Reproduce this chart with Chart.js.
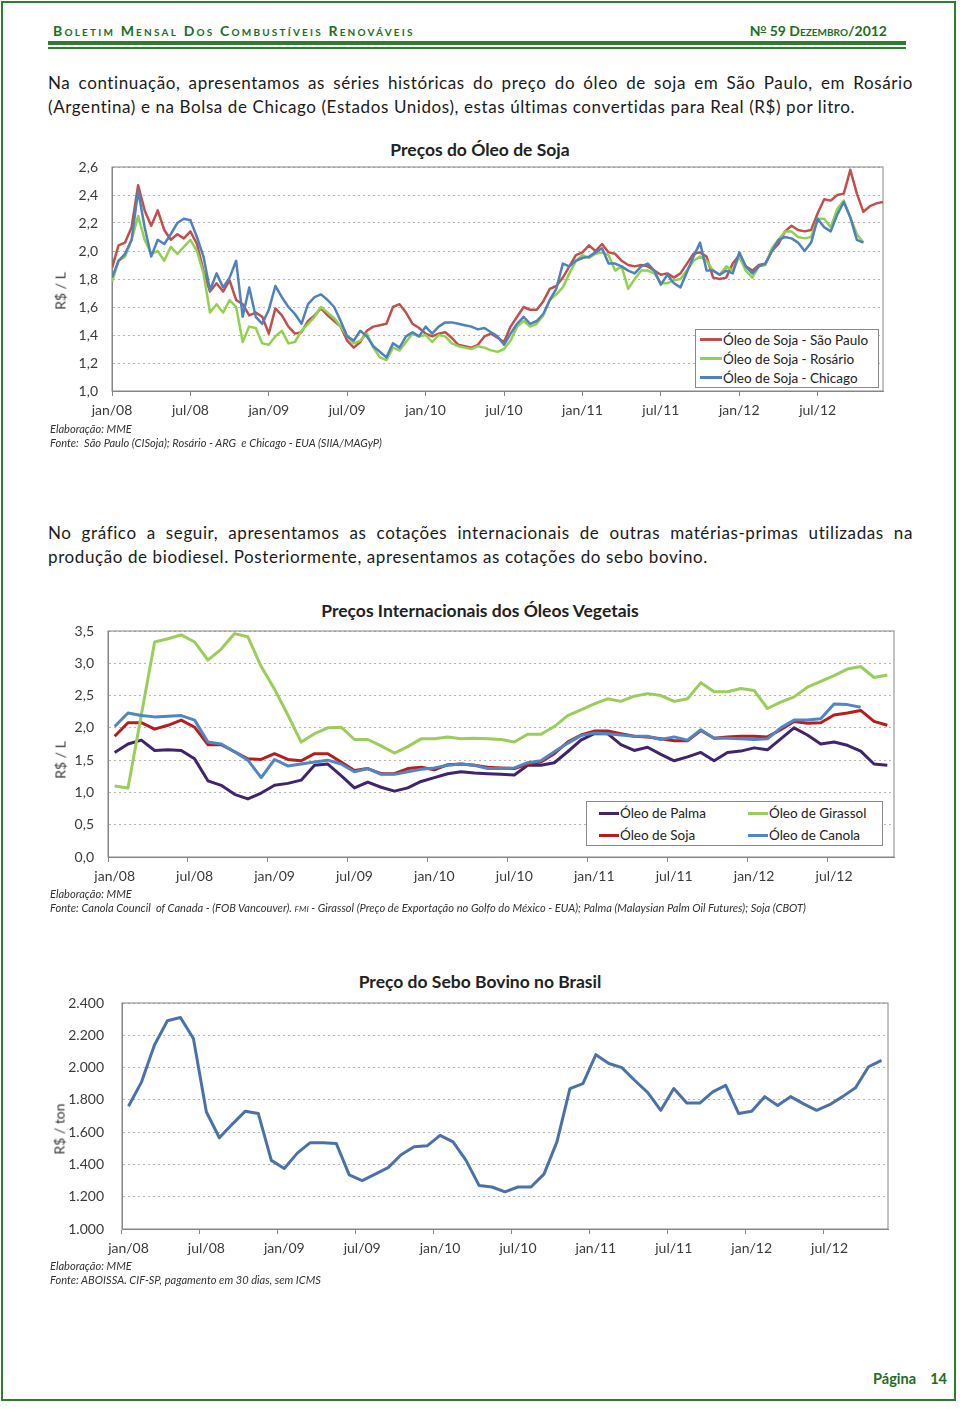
<!DOCTYPE html>
<html lang="pt-BR">
<head>
<meta charset="utf-8">
<title>Boletim Mensal dos Combustíveis Renováveis - Página 14</title>
<script src="https://cdn.jsdelivr.net/npm/chart.js@4.4.1/dist/chart.umd.min.js"></script>
<style>
  html, body { margin: 0; padding: 0; background: #fff; }
  body { position: relative; width: 960px; height: 1409px; overflow: hidden;
         font-family: Lato, "Open Sans", sans-serif; color: #1a1a1a; }
  .abs { position: absolute; }
  .frame { left: 1px; top: 1px; width: 951px; height: 1396px; border: 2.5px solid #2c7d2c; }
  .head { top: 22px; font-size: 14px; font-weight: bold; color: #1d6e1d; line-height: 18px; white-space: nowrap; }
  .sc { font-variant: small-caps; letter-spacing: 2.2px; }
  .supo { position: relative; top: -5px; font-size: 10px; line-height: 0; text-decoration: underline; }
  .rule1 { left: 48px; top: 41px; width: 858px; height: 4px; background: #2c7d2c; }
  .rule2 { left: 48px; top: 47px; width: 858px; height: 1.5px; background: #2c7d2c; }
  .para { left: 48px; width: 865px; font-size: 17px; letter-spacing: 0.6px; line-height: 24px; }
  .para .j { text-align: justify; text-align-last: justify; }
  .title { left: 0; width: 960px; text-align: center; font-weight: bold; font-size: 17.5px; color: #222; line-height: 20px; }
  .ytitle { font-size: 14px; color: #333; white-space: nowrap; transform: translate(-50%, -50%) rotate(-90deg); }
  .note { left: 50px; font-size: 11.1px; font-style: italic; color: #333; line-height: 14px; white-space: nowrap; }
  canvas { position: absolute; left: 0; }
  .legend { position: absolute; border: 1px solid #8a8a8a; background: #fff; box-sizing: border-box;
            font-size: 13.5px; color: #222; z-index: 2; }
  .legend .item { display: flex; align-items: center; white-space: nowrap; }
  .legend .swatch { display: inline-block; }
  #lg1 { left: 695px; top: 329px; width: 184px; height: 59px; }
  #lg1 .item { height: 19px; }
  #lg1 .swatch { width: 22px; height: 2.5px; margin: 0 1px 0 4px; }
  #lg2 { left: 586px; top: 801px; width: 297px; height: 45px; display: grid;
         grid-template-columns: 149px 146px; grid-template-rows: 22px 22px; grid-auto-flow: column; }
  #lg2 .swatch { width: 20px; height: 3px; margin: 0 1px 0 12px; }
  .footer { right: 13px; top: 1370px; font-weight: bold; color: #1d6e1d; font-size: 14.5px; line-height: 18px; }
</style>
</head>
<body>
<div class="abs frame"></div>
<div class="abs head sc" style="left:53px">Boletim Mensal Dos Combustíveis Renováveis</div>
<div class="abs head" style="right:73px">N<span class="supo">o</span> 59 <span class="sc" style="letter-spacing:0">Dezembro</span>/2012</div>
<div class="abs rule1"></div>
<div class="abs rule2"></div>

<div class="abs para" style="top:71px">
  <div class="j">Na continuação, apresentamos as séries históricas do preço do óleo de soja em São Paulo, em Rosário</div>
  <div>(Argentina) e na Bolsa de Chicago (Estados Unidos), estas últimas convertidas para Real (R$) por litro.</div>
</div>

<!-- grafico 1 -->
<div class="abs title" style="top:140px">Preços do Óleo de Soja</div>
<canvas id="soyChart" width="960" height="286" style="top:144px"></canvas>
<div class="abs ytitle" style="left:60px;top:291px">R$ / L</div>
<div class="legend" id="lg1"></div>
<div class="abs note" style="top:422px">Elaboração: MME</div>
<div class="abs note" style="top:436px">Fonte:&nbsp; São Paulo (CISoja); Rosário - ARG&nbsp; e Chicago - EUA (SIIA/MAGyP)</div>

<div class="abs para" style="top:521px">
  <div class="j">No gráfico a seguir, apresentamos as cotações internacionais de outras matérias-primas utilizadas na</div>
  <div>produção de biodiesel. Posteriormente, apresentamos as cotações do sebo bovino.</div>
</div>

<!-- grafico 2 -->
<div class="abs title" style="top:601px">Preços Internacionais dos Óleos Vegetais</div>
<canvas id="vegChart" width="960" height="297" style="top:608px"></canvas>
<div class="abs ytitle" style="left:60px;top:760px">R$ / L</div>
<div class="legend" id="lg2"></div>
<div class="abs note" style="top:887px">Elaboração: MME</div>
<div class="abs note" style="top:901px">Fonte: Canola Council&nbsp; of Canada - (FOB Vancouver). <span style="font-size:8.5px">FMI</span> - Girassol (Preço de Exportação no Golfo do México - EUA); Palma (Malaysian Palm Oil Futures); Soja (CBOT)</div>

<!-- grafico 3 -->
<div class="abs title" style="top:972px">Preço do Sebo Bovino no Brasil</div>
<canvas id="tallowChart" width="960" height="289" style="top:976px"></canvas>
<div class="abs ytitle" style="left:59px;top:1129px">R$ / ton</div>
<div class="abs note" style="top:1259px">Elaboração: MME</div>
<div class="abs note" style="top:1273px">Fonte: ABOISSA. CIF-SP, pagamento em 30 dias, sem ICMS</div>

<div class="abs footer">Página&nbsp;&nbsp;&nbsp; 14</div>

<script>
// Preços do Óleo de Soja (R$/L), leituras quinzenais a partir de jan/08
const soyStep = 0.5; // meses entre leituras
const soySaoPaulo = [
  1.88, 2.04, 2.06, 2.17, 2.47, 2.29, 2.18, 2.29, 2.15, 2.08, 2.12, 2.09, 2.14, 2.05, 1.86, 1.71, 1.77, 1.71, 1.79, 1.65,
  1.62, 1.54, 1.56, 1.53, 1.41, 1.59, 1.54, 1.46, 1.41, 1.42, 1.50, 1.54, 1.59, 1.54, 1.50, 1.46, 1.36, 1.31, 1.35, 1.43,
  1.46, 1.47, 1.48, 1.60, 1.62, 1.56, 1.48, 1.45, 1.41, 1.39, 1.41, 1.42, 1.38, 1.33, 1.32, 1.31, 1.33, 1.39, 1.41, 1.38,
  1.35, 1.46, 1.53, 1.60, 1.58, 1.58, 1.64, 1.73, 1.75, 1.81, 1.89, 1.97, 1.99, 2.04, 2.00, 2.05, 1.99, 1.98, 1.93, 1.90,
  1.89, 1.90, 1.89, 1.86, 1.83, 1.84, 1.81, 1.84, 1.91, 1.98, 1.99, 1.96, 1.81, 1.80, 1.81, 1.91, 1.97, 1.89, 1.86, 1.90,
  1.91, 2.00, 2.05, 2.14, 2.18, 2.15, 2.14, 2.15, 2.27, 2.37, 2.36, 2.40, 2.41, 2.58, 2.41, 2.28, 2.32, 2.34, 2.35
];
const soyRosario = [
  1.78, 1.93, 1.96, 2.08, 2.25, 2.08, 1.98, 2.00, 1.93, 2.03, 1.98, 2.03, 2.08, 2.00, 1.84, 1.56, 1.62, 1.56, 1.65, 1.60,
  1.35, 1.46, 1.45, 1.34, 1.33, 1.39, 1.43, 1.34, 1.35, 1.43, 1.48, 1.53, 1.60, 1.56, 1.52, 1.46, 1.39, 1.34, 1.36, 1.41,
  1.31, 1.24, 1.22, 1.31, 1.29, 1.35, 1.41, 1.39, 1.40, 1.35, 1.40, 1.39, 1.34, 1.32, 1.31, 1.30, 1.32, 1.31, 1.29, 1.28,
  1.30, 1.36, 1.46, 1.50, 1.46, 1.48, 1.54, 1.65, 1.69, 1.74, 1.84, 1.93, 1.97, 1.95, 1.98, 1.99, 1.97, 1.86, 1.89, 1.73,
  1.80, 1.86, 1.86, 1.84, 1.77, 1.77, 1.79, 1.80, 1.86, 1.93, 1.96, 1.93, 1.86, 1.83, 1.89, 1.86, 1.96, 1.86, 1.81, 1.89,
  1.90, 2.02, 2.08, 2.14, 2.14, 2.10, 2.09, 2.10, 2.23, 2.23, 2.17, 2.30, 2.36, 2.24, 2.12, 2.06
];
const soyChicago = [
  1.81, 1.93, 1.98, 2.08, 2.43, 2.17, 1.96, 2.08, 2.05, 2.12, 2.20, 2.23, 2.22, 2.10, 1.96, 1.72, 1.84, 1.74, 1.81, 1.93,
  1.53, 1.74, 1.53, 1.48, 1.58, 1.75, 1.67, 1.60, 1.55, 1.48, 1.62, 1.67, 1.69, 1.65, 1.60, 1.50, 1.39, 1.36, 1.43, 1.39,
  1.32, 1.28, 1.24, 1.34, 1.31, 1.39, 1.42, 1.39, 1.46, 1.41, 1.46, 1.49, 1.49, 1.48, 1.47, 1.46, 1.44, 1.45, 1.42, 1.39,
  1.33, 1.41, 1.48, 1.53, 1.48, 1.50, 1.55, 1.65, 1.73, 1.91, 1.89, 1.93, 1.95, 1.96, 1.99, 2.02, 1.91, 1.91, 1.89, 1.86,
  1.84, 1.89, 1.91, 1.86, 1.76, 1.83, 1.77, 1.74, 1.85, 1.96, 2.06, 1.86, 1.86, 1.83, 1.86, 1.84, 1.99, 1.89, 1.84, 1.89,
  1.91, 2.00, 2.08, 2.10, 2.09, 2.06, 2.00, 2.06, 2.23, 2.17, 2.14, 2.26, 2.35, 2.24, 2.08, 2.06
];
const soyTickLabels = ['jan/08', 'jul/08', 'jan/09', 'jul/09', 'jan/10', 'jul/10', 'jan/11', 'jul/11', 'jan/12', 'jul/12'];

// Preços Internacionais dos Óleos Vegetais (R$/L), mensal jan/08 - nov/12
const monthNames = ['jan', 'fev', 'mar', 'abr', 'mai', 'jun', 'jul', 'ago', 'set', 'out', 'nov', 'dez'];
const yearNames = ['08', '09', '10', '11', '12'];
const palmOil = [
  1.62, 1.75, 1.81, 1.65, 1.66, 1.65, 1.52, 1.18, 1.11, 0.97, 0.90, 0.99, 1.11, 1.14, 1.19, 1.42, 1.44, 1.26, 1.07, 1.16,
  1.08, 1.02, 1.07, 1.17, 1.23, 1.29, 1.32, 1.30, 1.29, 1.28, 1.27, 1.42, 1.42, 1.46, 1.63, 1.81, 1.91, 1.91, 1.74, 1.65,
  1.70, 1.59, 1.49, 1.55, 1.62, 1.49, 1.62, 1.64, 1.69, 1.66, 1.83, 2.00, 1.89, 1.75, 1.78, 1.73, 1.64, 1.44, 1.42
];
const soyOil = [
  1.87, 2.08, 2.08, 1.98, 2.04, 2.12, 2.01, 1.74, 1.74, 1.63, 1.52, 1.51, 1.60, 1.51, 1.49, 1.60, 1.60, 1.47, 1.34, 1.37,
  1.29, 1.29, 1.37, 1.39, 1.35, 1.43, 1.44, 1.42, 1.39, 1.38, 1.37, 1.44, 1.47, 1.60, 1.78, 1.89, 1.95, 1.95, 1.91, 1.87,
  1.86, 1.83, 1.80, 1.80, 1.96, 1.84, 1.86, 1.87, 1.87, 1.86, 1.97, 2.10, 2.07, 2.08, 2.20, 2.23, 2.27, 2.10, 2.04
];
const sunflowerOil = [
  1.10, 1.07, 2.20, 3.33, 3.38, 3.44, 3.33, 3.05, 3.22, 3.46, 3.41, 2.95, 2.60, 2.20, 1.78, 1.91, 2.00, 2.01, 1.82, 1.82,
  1.72, 1.61, 1.71, 1.83, 1.83, 1.86, 1.83, 1.84, 1.83, 1.82, 1.78, 1.90, 1.90, 2.02, 2.19, 2.28, 2.37, 2.45, 2.41, 2.49,
  2.53, 2.50, 2.41, 2.45, 2.70, 2.56, 2.56, 2.61, 2.58, 2.30, 2.40, 2.48, 2.63, 2.72, 2.81, 2.91, 2.95, 2.78, 2.82
];
const canolaOil = [
  2.02, 2.23, 2.19, 2.17, 2.18, 2.19, 2.12, 1.78, 1.75, 1.63, 1.50, 1.23, 1.51, 1.41, 1.44, 1.47, 1.50, 1.44, 1.32, 1.37,
  1.28, 1.28, 1.32, 1.36, 1.38, 1.42, 1.44, 1.42, 1.37, 1.37, 1.38, 1.46, 1.49, 1.63, 1.76, 1.88, 1.92, 1.91, 1.89, 1.87,
  1.87, 1.82, 1.86, 1.81, 1.97, 1.84, 1.84, 1.83, 1.82, 1.83, 2.00, 2.12, 2.12, 2.14, 2.37, 2.36, 2.32
];

// Preço do Sebo Bovino no Brasil (R$/ton), mensal jan/08 - nov/12
const tallowPrice = [
  1760, 1910, 2140, 2290, 2310, 2180, 1725, 1565, 1650, 1730, 1715, 1425, 1375, 1470, 1535, 1535, 1530, 1335, 1300, 1340,
  1380, 1460, 1510, 1515, 1580, 1540, 1425, 1270, 1260, 1230, 1260, 1260, 1340, 1540, 1870, 1900, 2080, 2025, 2000, 1920,
  1845, 1735, 1870, 1780, 1780, 1850, 1890, 1715, 1730, 1820, 1765, 1820, 1775, 1735, 1770, 1820, 1875, 2005, 2045
];

const monthLabels = [];
yearNames.forEach(y => monthNames.forEach(m => monthLabels.push(m + '/' + y)));
const vegLabels = monthLabels.slice(0, palmOil.length);

Chart.defaults.font.family = 'Lato, "Open Sans", sans-serif';
Chart.defaults.font.size = 14;
Chart.defaults.color = '#3a3a3a';

const axisGray = '#868686';
const commaFmt = v => v.toFixed(1).replace('.', ',');
const thousandFmt = v => (v / 1000).toFixed(3); // 2400 -> "2.400"
const everySixth = (v, i) => (i % 6 === 0 ? vegLabels[i] : '');

// solid frame round the plot area
const plotBox = {
  id: 'plotBox',
  beforeDatasetsDraw(chart) {
    const a = chart.chartArea;
    const ctx = chart.ctx;
    ctx.save();
    ctx.strokeStyle = axisGray;
    ctx.lineWidth = 1;
    ctx.strokeRect(a.left, a.top, a.right - a.left, a.bottom - a.top);
    ctx.restore();
  }
};

function yAxis(min, max, step, fmt, width, pad) {
  return {
    min: min, max: max,
    ticks: { stepSize: step, padding: pad, callback: fmt },
    grid: { color: '#b5b5b5', drawTicks: false },
    border: { color: axisGray, dash: [2, 3] },
    afterFit: s => { s.width = width; }
  };
}

// padTop must stay above label half-height + tick padding, or Chart.js pushes the plot down
function baseOptions(padTop, padRight) {
  return {
    responsive: false,
    animation: false,
    layout: { padding: { top: padTop, right: padRight, left: 0, bottom: 0 } },
    plugins: { legend: { display: false }, tooltip: { enabled: false } },
    elements: { point: { radius: 0 }, line: { tension: 0, borderJoinStyle: 'round' } }
  };
}

function fillLegend(id, chart) {
  const box = document.getElementById(id);
  chart.data.datasets.forEach(ds => {
    const item = document.createElement('div');
    item.className = 'item';
    const sw = document.createElement('span');
    sw.className = 'swatch';
    sw.style.background = ds.borderColor;
    item.append(sw, ds.label);
    box.appendChild(item);
  });
}

// --- grafico 1
const soyPoints = arr => arr.map((v, i) => ({ x: i * soyStep, y: v }));
const soyOpts = baseOptions(23, 77);
soyOpts.scales = {
  x: {
    type: 'linear', min: 0, max: 59,
    ticks: { stepSize: 6, includeBounds: false, autoSkip: false, maxRotation: 0, padding: 6,
             callback: v => soyTickLabels[v / 6] },
    grid: { drawOnChartArea: false, drawTicks: true, tickLength: 5, color: axisGray },
    border: { color: axisGray },
    afterFit: s => { s.height = 39; }
  },
  y: yAxis(1.0, 2.6, 0.2, commaFmt, 112, 14)
};
const soyChart = new Chart(document.getElementById('soyChart'), {
  type: 'line',
  data: {
    datasets: [
      { label: 'Óleo de Soja - São Paulo', data: soyPoints(soySaoPaulo), borderColor: '#C0504D', borderWidth: 2.5, order: 3 },
      { label: 'Óleo de Soja - Rosário', data: soyPoints(soyRosario), borderColor: '#92D050', borderWidth: 2.5, order: 2 },
      { label: 'Óleo de Soja - Chicago', data: soyPoints(soyChicago), borderColor: '#4F81BD', borderWidth: 2.5, order: 1 }
    ]
  },
  options: soyOpts,
  plugins: [plotBox]
});
fillLegend('lg1', soyChart);

// --- grafico 2
function categoryX(height) {
  return {
    type: 'category', offset: true,
    ticks: { autoSkip: false, maxRotation: 0, padding: 6, callback: everySixth },
    grid: { offset: true, drawOnChartArea: false, drawTicks: true, tickLength: 5,
            color: c => (c.index % 6 === 0 ? axisGray : 'rgba(0,0,0,0)') },
    border: { color: axisGray },
    afterFit: s => { s.height = height; }
  };
}
const vegOpts = baseOptions(23, 66);
vegOpts.scales = { x: categoryX(48), y: yAxis(0, 3.5, 0.5, commaFmt, 108, 14) };
const vegChart = new Chart(document.getElementById('vegChart'), {
  type: 'line',
  data: {
    labels: vegLabels,
    datasets: [
      { label: 'Óleo de Palma', data: palmOil, borderColor: '#40246E', borderWidth: 3, order: 4 },
      { label: 'Óleo de Soja', data: soyOil, borderColor: '#B81D1D', borderWidth: 3, order: 3 },
      { label: 'Óleo de Girassol', data: sunflowerOil, borderColor: '#9ACD5A', borderWidth: 3, order: 2 },
      { label: 'Óleo de Canola', data: canolaOil, borderColor: '#4F86C3', borderWidth: 3, order: 1 }
    ]
  },
  options: vegOpts,
  plugins: [plotBox]
});
fillLegend('lg2', vegChart);

// --- grafico 3
const tallowOpts = baseOptions(27, 72);
tallowOpts.scales = { x: categoryX(36), y: yAxis(1000, 2400, 200, thousandFmt, 122, 18) };
new Chart(document.getElementById('tallowChart'), {
  type: 'line',
  data: {
    labels: vegLabels,
    datasets: [{ label: 'Sebo bovino', data: tallowPrice, borderColor: '#4B72A8', borderWidth: 3 }]
  },
  options: tallowOpts,
  plugins: [plotBox]
});
</script>
</body>
</html>
